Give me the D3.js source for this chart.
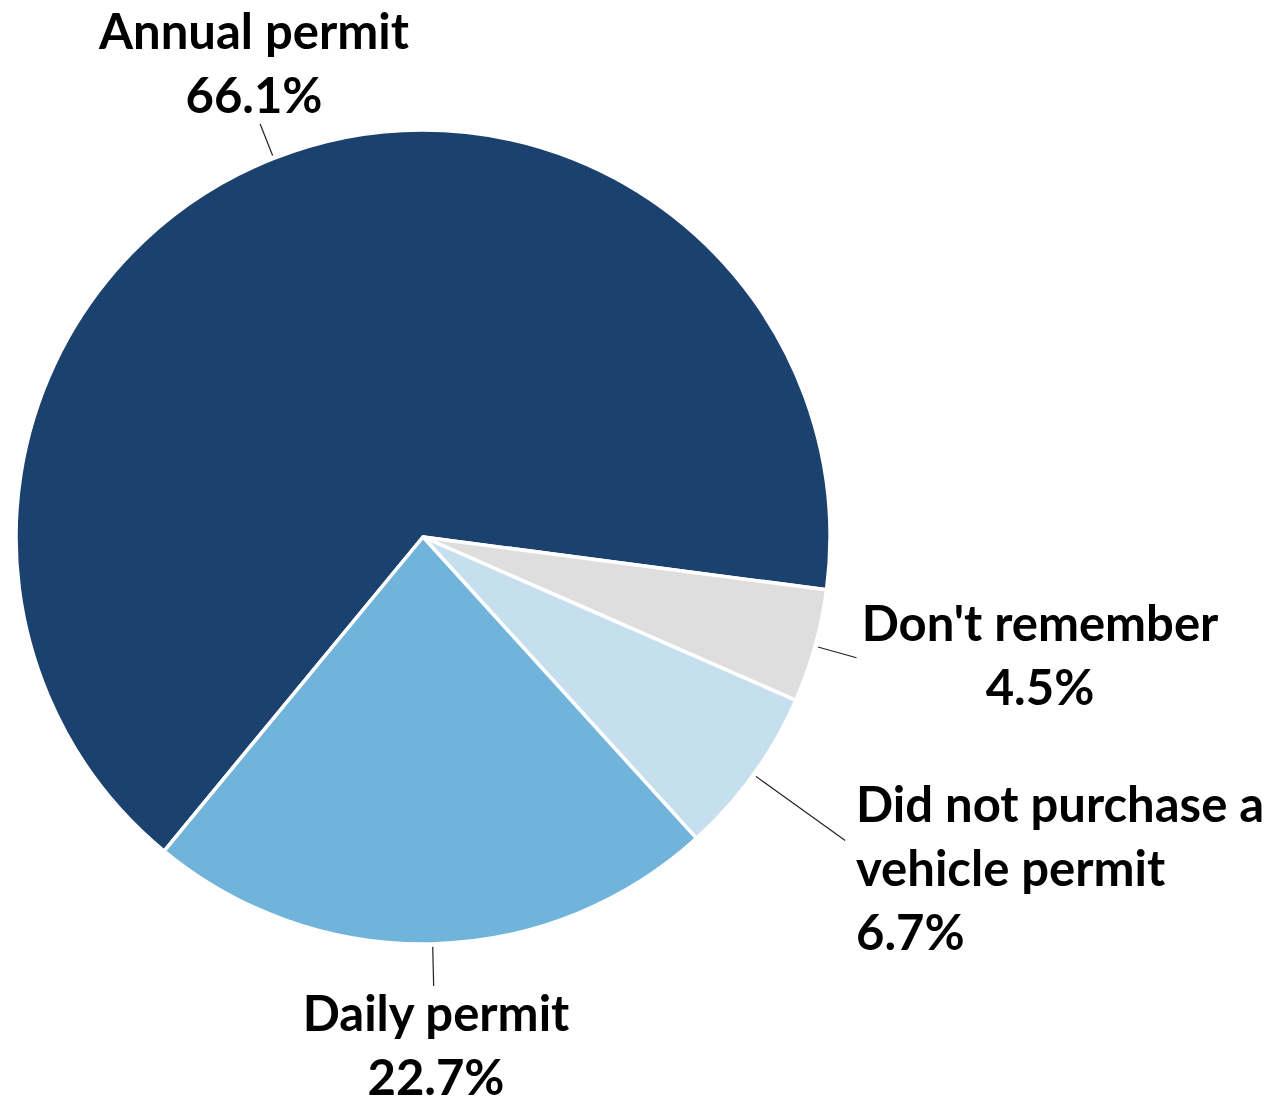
<!DOCTYPE html>
<html>
<head>
<meta charset="utf-8">
<script src="https://cdn.jsdelivr.net/npm/d3@7"></script>
<style>
  html, body { margin: 0; padding: 0; background: #fff; }
  svg { display: block; }
  .lbl { font-family: Lato, "Open Sans", sans-serif; font-weight: 700; fill: #000; }
</style>
</head>
<body>
<svg id="chart" width="1285" height="1105"></svg>
<script>
// data
const categories = ["Annual permit", "Don't remember", "Did not purchase a vehicle permit", "Daily permit"];
const values = [66.1, 4.5, 6.7, 22.7];
const valueLabels = ["66.1%", "4.5%", "6.7%", "22.7%"];
const colors = ["#1b426e", "#dedede", "#c6dfee", "#70b3db"];

// label layout (lines of text, anchor, position, leader length)
const labelLines = [
  ["Annual permit", "66.1%"],
  ["Don't remember", "4.5%"],
  ["Did not purchase a", "vehicle permit", "6.7%"],
  ["Daily permit", "22.7%"]
];
const labelPos = [
  {x: 254, y: 49, anchor: "middle", leader: 444},
  {x: 1040, y: 641, anchor: "middle", leader: 450},
  {x: 856, y: 822, anchor: "start", leader: 520},
  {x: 436, y: 1031, anchor: "middle", leader: 449}
];

const cx = 423, cy = 537, R = 407;
const lineH = 64;

const svg = d3.select('#chart');
const g = svg.append('g').attr('transform', `translate(${cx}, ${cy})`);

const startA = 219.5 * Math.PI / 180;
const pie = d3.pie()
  .sort(null)
  .value(d => d)
  .startAngle(startA)
  .endAngle(startA + 2 * Math.PI);

const arcs = pie(values);
const arc = d3.arc().innerRadius(0).outerRadius(R);

g.selectAll('path.slice')
  .data(arcs)
  .enter()
  .append('path')
  .attr('class', 'slice')
  .attr('d', arc)
  .attr('fill', (d, i) => colors[i])
  .attr('stroke', '#fff')
  .attr('stroke-width', 3.5)
  .attr('stroke-linejoin', 'round');

// leader lines
const mid = d => (d.startAngle + d.endAngle) / 2;
g.selectAll('line.leader')
  .data(arcs)
  .enter()
  .append('line')
  .attr('class', 'leader')
  .attr('x1', d => Math.sin(mid(d)) * (R + 3))
  .attr('y1', d => -Math.cos(mid(d)) * (R + 3))
  .attr('x2', (d, i) => Math.sin(mid(d)) * labelPos[i].leader)
  .attr('y2', (d, i) => -Math.cos(mid(d)) * labelPos[i].leader)
  .attr('stroke', '#222')
  .attr('stroke-width', 1.2);

// labels
labelLines.forEach((lines, i) => {
  const p = labelPos[i];
  const t = svg.append('text')
    .attr('class', 'lbl')
    .attr('x', p.x)
    .attr('y', p.y)
    .attr('text-anchor', p.anchor)
    .style('font-size', '49px');
  lines.forEach((s, j) => {
    t.append('tspan')
      .attr('x', p.x)
      .attr('y', p.y + j * lineH)
      .text(s);
  });
});
</script>
</body>
</html>
